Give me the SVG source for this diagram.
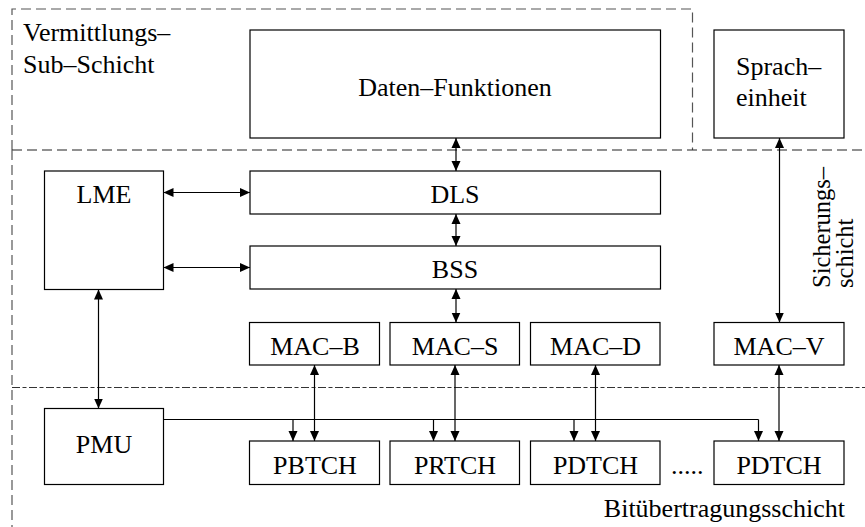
<svg xmlns="http://www.w3.org/2000/svg" width="865" height="527" viewBox="0 0 865 527">
  <style>
    .box { fill: #fff; stroke: #000; stroke-width: 1.2; }
    .lbl { font-family: 'Liberation Serif', 'Times New Roman', 'DejaVu Serif', serif; font-size: 26px; fill: #000; }
    .rot { font-size: 24.5px; }
    .mid { text-anchor: middle; }
    .con { fill: none; stroke: #000; stroke-width: 1.2; }
    .layer { fill: none; stroke: #555; stroke-width: 1.2; stroke-dasharray: 10 5; }
    .layer-k { fill: none; stroke: #222; stroke-width: 1.2; stroke-dasharray: 10 5; }
    .layer-dd { fill: none; stroke: #333; stroke-width: 1.2; stroke-dasharray: 8 2.5 4 2.5; }
  </style>
  <defs>
    <marker id="ah" viewBox="0 0 10 10" refX="10" refY="5" markerWidth="10" markerHeight="10" markerUnits="userSpaceOnUse" orient="auto-start-reverse">
      <path d="M0,0.5 L10,5 L0,9.5 Z" fill="#000"/>
    </marker>
  </defs>

  <!-- layer borders -->
  <g id="layers">
    <path class="layer" d="M12,150 V9 H692.5 V150"/>
    <path class="layer-k" d="M12,150 H865"/>
    <path class="layer" d="M12,150 V527"/>
    <path class="layer-dd" d="M12,387.5 H865"/>
  </g>

  <!-- layer captions -->
  <g id="captions">
    <text class="lbl" x="23" y="40.5">Vermittlungs–</text>
    <text class="lbl" x="23" y="73">Sub–Schicht</text>
    <text class="lbl rot" transform="translate(830,288) rotate(-90)">Sicherungs–</text>
    <text class="lbl rot" transform="translate(853,288) rotate(-90)">schicht</text>
    <text class="lbl" x="845" y="516.5" text-anchor="end">Bitübertragungsschicht</text>
  </g>

  <g id="daten">
    <rect class="box" x="250" y="30" width="410.5" height="108"/>
    <text class="lbl mid" x="455" y="95.5">Daten–Funktionen</text>
  </g>
  <g id="sprach">
    <rect class="box" x="714" y="30" width="130" height="108"/>
    <text class="lbl" x="736" y="75">Sprach–</text>
    <text class="lbl" x="736" y="106">einheit</text>
  </g>
  <g id="lme">
    <rect class="box" x="44.5" y="171" width="119" height="118.5"/>
    <text class="lbl mid" x="104" y="202.5">LME</text>
  </g>
  <g id="dls">
    <rect class="box" x="250" y="171" width="410.5" height="43"/>
    <text class="lbl mid" x="455" y="202.5">DLS</text>
  </g>
  <g id="bss">
    <rect class="box" x="250" y="246" width="410.5" height="43"/>
    <text class="lbl mid" x="455" y="278">BSS</text>
  </g>
  <g id="mac-b">
    <rect class="box" x="249.5" y="322.5" width="130" height="42.5"/>
    <text class="lbl mid" x="315" y="355">MAC–B</text>
  </g>
  <g id="mac-s">
    <rect class="box" x="390" y="322.5" width="129.5" height="42.5"/>
    <text class="lbl mid" x="455" y="355">MAC–S</text>
  </g>
  <g id="mac-d">
    <rect class="box" x="530.5" y="322.5" width="129.5" height="42.5"/>
    <text class="lbl mid" x="595.5" y="355">MAC–D</text>
  </g>
  <g id="mac-v">
    <rect class="box" x="714" y="322.5" width="130" height="42.5"/>
    <text class="lbl mid" x="779" y="355">MAC–V</text>
  </g>
  <g id="pmu">
    <rect class="box" x="44.5" y="408.5" width="119" height="76"/>
    <text class="lbl mid" x="104" y="452.5">PMU</text>
  </g>
  <g id="pbtch">
    <rect class="box" x="249.5" y="441" width="130" height="43.5"/>
    <text class="lbl mid" x="315" y="473.5">PBTCH</text>
  </g>
  <g id="prtch">
    <rect class="box" x="390" y="441" width="129.5" height="43.5"/>
    <text class="lbl mid" x="455" y="473.5">PRTCH</text>
  </g>
  <g id="pdtch-1">
    <rect class="box" x="530.5" y="441" width="129.5" height="43.5"/>
    <text class="lbl mid" x="595.5" y="473.5">PDTCH</text>
  </g>
  <g id="dots">
    <text class="lbl" x="671" y="473.5">.....</text>
  </g>
  <g id="pdtch-n">
    <rect class="box" x="714" y="441" width="130" height="43.5"/>
    <text class="lbl mid" x="779" y="473.5">PDTCH</text>
  </g>

  <!-- connectors -->
  <g id="connectors">
    <line class="con" x1="456" y1="138" x2="456" y2="171" marker-start="url(#ah)" marker-end="url(#ah)"/>
    <line class="con" x1="456" y1="214" x2="456" y2="246" marker-start="url(#ah)" marker-end="url(#ah)"/>
    <line class="con" x1="456" y1="289" x2="456" y2="322.5" marker-start="url(#ah)" marker-end="url(#ah)"/>
    <line class="con" x1="163.5" y1="192.5" x2="250" y2="192.5" marker-start="url(#ah)" marker-end="url(#ah)"/>
    <line class="con" x1="163.5" y1="267.5" x2="250" y2="267.5" marker-start="url(#ah)" marker-end="url(#ah)"/>
    <line class="con" x1="98.5" y1="289.5" x2="98.5" y2="408.5" marker-start="url(#ah)" marker-end="url(#ah)"/>
    <line class="con" x1="779.5" y1="138" x2="779.5" y2="322.5" marker-start="url(#ah)" marker-end="url(#ah)"/>
    <line class="con" x1="314.5" y1="365" x2="314.5" y2="441" marker-start="url(#ah)" marker-end="url(#ah)"/>
    <line class="con" x1="455" y1="365" x2="455" y2="441" marker-start="url(#ah)" marker-end="url(#ah)"/>
    <line class="con" x1="595.5" y1="365" x2="595.5" y2="441" marker-start="url(#ah)" marker-end="url(#ah)"/>
    <line class="con" x1="779" y1="365" x2="779" y2="441" marker-start="url(#ah)" marker-end="url(#ah)"/>
    <!-- PMU control bus -->
    <path class="con" d="M163.5,419.5 H758.5"/>
    <line class="con" x1="293" y1="419.5" x2="293" y2="441" marker-end="url(#ah)"/>
    <line class="con" x1="433.5" y1="419.5" x2="433.5" y2="441" marker-end="url(#ah)"/>
    <line class="con" x1="574" y1="419.5" x2="574" y2="441" marker-end="url(#ah)"/>
    <line class="con" x1="758.5" y1="419.5" x2="758.5" y2="441" marker-end="url(#ah)"/>
  </g>
</svg>
